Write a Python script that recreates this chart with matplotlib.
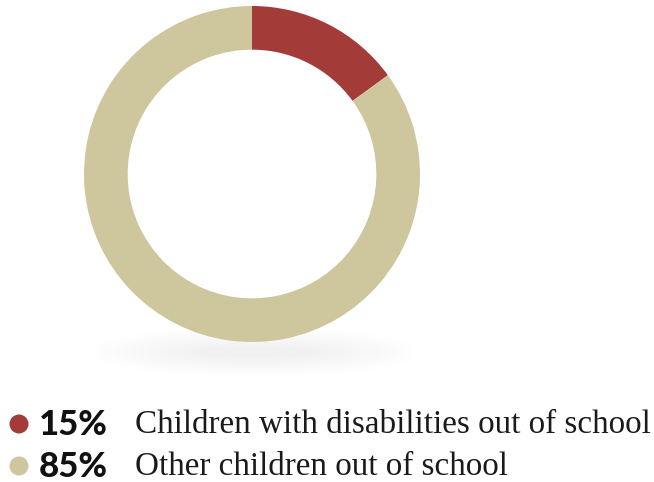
import matplotlib.pyplot as plt
from matplotlib.patches import Ellipse, Circle

labels = ["Children with disabilities out of school", "Other children out of school"]
values = [15, 85]
pct_labels = ["15%", "85%"]
colors = ["#A33B38", "#CEC69D"]

W, H = 654, 482
fig = plt.figure(figsize=(W / 100, H / 100), dpi=100)

# background axes in pixel coordinates
bg = fig.add_axes([0, 0, 1, 1])
bg.set_xlim(0, W)
bg.set_ylim(H, 0)
bg.axis("off")

# soft shadow under the donut
for i in range(14):
    bg.add_patch(Ellipse((255, 352), 330 - i * 16, 50 - i * 3,
                         color="#e0e0e0", alpha=0.028, lw=0))

# donut
cx, cy, r = 252, 174, 168
pie_ax = fig.add_axes([(cx - r) / W, (H - cy - r) / H, 2 * r / W, 2 * r / H])
pie_ax.pie(values, colors=colors, startangle=90, counterclock=False,
           wedgeprops=dict(width=0.26, linewidth=0))
pie_ax.set_xlim(-1, 1)
pie_ax.set_ylim(-1, 1)
pie_ax.axis("off")

# legend
rows_y = [424, 466]
for y, c, p, lab in zip(rows_y, colors, pct_labels, labels):
    bg.add_patch(Circle((19, y), 9.5, color=c, lw=0))
    bg.text(39, y + 1, p, fontsize=25, fontfamily="Lato", fontweight="black",
            va="center", ha="left", color="#111111")
    bg.text(135, y + 1, lab, fontsize=23.9, fontfamily="Liberation Serif",
            va="center", ha="left", color="#1a1a1a")

fig.savefig("out.png", dpi=100)
